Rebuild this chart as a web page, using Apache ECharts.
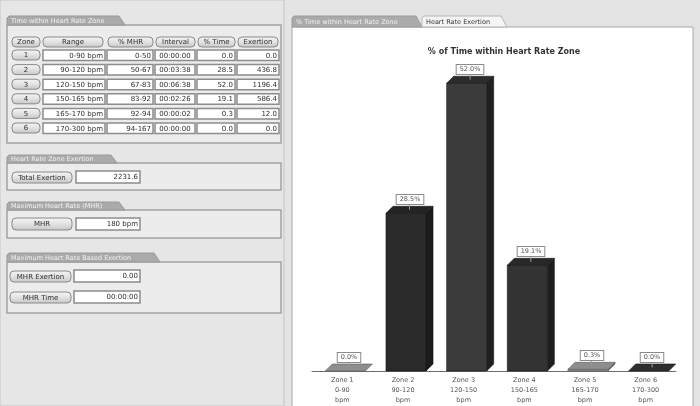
<!DOCTYPE html>
<html>
<head>
<meta charset="utf-8">
<script src="https://cdn.jsdelivr.net/npm/echarts@6/dist/echarts.min.js"></script>
<style>
  html, body { margin: 0; padding: 0; background: #e4e4e4; }
  #chart { width: 700px; height: 406px; }
</style>
</head>
<body>
<div id="chart"></div>
<script>
// Heart rate zone summary
const zones = ['1', '2', '3', '4', '5', '6'];
const rangeLow = [0, 90, 120, 150, 165, 170];
const rangeHigh = [90, 120, 150, 165, 170, 300];
const mhrLow = [0, 50, 67, 83, 92, 94];
const mhrHigh = [50, 67, 83, 92, 94, 167];
const intervals = ['00:00:00', '00:03:38', '00:06:38', '00:02:26', '00:00:02', '00:00:00'];
const pctTime = [0.0, 28.5, 52.0, 19.1, 0.3, 0.0];
const exertion = [0.0, 436.8, 1196.4, 586.4, 12.0, 0.0];
const tableHeaders = ['Zone', 'Range', '% MHR', 'Interval', '% Time', 'Exertion'];
const totalExertion = 2231.6;
const maxHeartRate = 180;
const mhrExertion = '0.00';
const mhrTime = '00:00:00';

const FONT = 'DejaVu Sans';

// face colours for each zone's bar: front, side, top, edge
const palette = [
  { front: '#8e8e8e', side: '#6a6a6a', top: '#8e8e8e', edge: '#5a5a5a' },
  { front: '#2a2a2a', side: '#1b1b1b', top: '#242424', edge: '#151515' },
  { front: '#3b3b3b', side: '#202020', top: '#2c2c2c', edge: '#181818' },
  { front: '#333333', side: '#1e1e1e', top: '#282828', edge: '#161616' },
  { front: '#8e8e8e', side: '#6a6a6a', top: '#8e8e8e', edge: '#5a5a5a' },
  { front: '#2e2e2e', side: '#1c1c1c', top: '#2e2e2e', edge: '#1a1a1a' }
];

const categories = zones.map((z, i) => 'Zone ' + z + '\n' + rangeLow[i] + '-' + rangeHigh[i] + '\nbpm');

// ---------- panel widgets ----------
const btnFill = {
  type: 'linear', x: 0, y: 0, x2: 0, y2: 1,
  colorStops: [{ offset: 0, color: '#f6f6f6' }, { offset: 0.5, color: '#e2e2e2' }, { offset: 1, color: '#c6c6c6' }]
};

function label(x, y, text, align, opts) {
  return Object.assign({
    type: 'text', x: x, y: y, z: 5,
    style: Object.assign({ text: text, fill: '#2e2e2e', fontFamily: FONT, fontSize: 7, align: align || 'left', verticalAlign: 'middle' }, opts || {})
  });
}
function button(x, y, w, h, text) {
  return [
    { type: 'rect', z: 4, shape: { x: x, y: y, width: w, height: h, r: 4 }, style: { fill: btnFill, stroke: '#8a8a8a', lineWidth: 1 } },
    label(x + w / 2, y + h / 2 + 0.5, text, 'center')
  ];
}
function cell(x, y, w, h, text, align) {
  const tx = align === 'center' ? x + w / 2 : x + w - 2;
  return [
    { type: 'rect', z: 4, shape: { x: x, y: y, width: w, height: h }, style: { fill: '#ffffff', stroke: '#8c8c8c', lineWidth: 1.5 } },
    label(tx, y + h / 2 + 0.5, text, align === 'center' ? 'center' : 'right')
  ];
}
function tab(x, y, w, h, text, light) {
  return [
    { type: 'polygon', z: 4, shape: { points: [[x, y + h], [x, y + 2], [x + 2, y], [x + w - 6, y], [x + w, y + h]] },
      style: { fill: light ? '#f4f4f4' : '#aaaaaa', stroke: light ? '#b5b5b5' : '#9a9a9a', lineWidth: 1 } },
    label(x + 4, y + h / 2 + 0.5, text, 'left', { fill: light ? '#333333' : '#f2f2f2', fontSize: 6.5 })
  ];
}
function groupBox(x, y, w, h) {
  return { type: 'rect', z: 3, shape: { x: x, y: y, width: w, height: h }, style: { fill: '#ececec', stroke: '#a2a2a2', lineWidth: 1.5 } };
}

const panel = [];
// frames
panel.push({ type: 'rect', z: -2, shape: { x: 0, y: 0, width: 284, height: 406 }, style: { fill: '#e6e6e6', stroke: '#c4c4c4', lineWidth: 1 } });
panel.push({ type: 'rect', z: -2, shape: { x: 292, y: 27, width: 401, height: 382 }, style: { fill: '#ffffff', stroke: '#a9a9a9', lineWidth: 1 } });

// zone table
panel.push(groupBox(7, 25, 274, 118));
panel.push(...tab(7, 16, 118, 9, 'Time within Heart Rate Zone'));
const headCols = [[12, 28], [43, 60], [108, 45], [156, 39], [198, 37], [238, 40]];
tableHeaders.forEach((t, k) => panel.push(...button(headCols[k][0], 37, headCols[k][1], 10, t)));
const cellCols = [[43, 62], [107, 46], [155, 40], [197, 38], [237, 42]];
zones.forEach((z, i) => {
  const y = 50 + i * 14.6;
  panel.push(...button(12, y, 28, 10, z));
  const vals = [
    rangeLow[i] + '-' + rangeHigh[i] + ' bpm',
    mhrLow[i] + '-' + mhrHigh[i],
    intervals[i],
    pctTime[i].toFixed(1),
    exertion[i].toFixed(1)
  ];
  vals.forEach((v, k) => panel.push(...cell(cellCols[k][0], y, cellCols[k][1], 10.5, v, k === 2 ? 'center' : 'right')));
});

// exertion total
panel.push(groupBox(7, 163, 274, 27));
panel.push(...tab(7, 155, 110, 8, 'Heart Rate Zone Exertion'));
panel.push(...button(12, 172, 60, 11, 'Total Exertion'));
panel.push(...cell(76, 171, 64, 12, totalExertion.toFixed(1), 'right'));

// maximum heart rate
panel.push(groupBox(7, 210, 274, 28));
panel.push(...tab(7, 202, 118, 8, 'Maximum Heart Rate (MHR)'));
panel.push(...button(12, 218, 60, 12, 'MHR'));
panel.push(...cell(76, 218, 64, 12, maxHeartRate + ' bpm', 'right'));

// MHR based exertion
panel.push(groupBox(7, 262, 274, 51));
panel.push(...tab(7, 253, 153, 9, 'Maximum Heart Rate Based Exertion'));
panel.push(...button(10, 271, 61, 11, 'MHR Exertion'));
panel.push(...cell(74, 270, 66, 12, mhrExertion, 'right'));
panel.push(...button(10, 292, 61, 11, 'MHR Time'));
panel.push(...cell(74, 291, 66, 12, mhrTime, 'right'));

// chart tabs
panel.push(...tab(292, 16, 130, 11, '% Time within Heart Rate Zone'));
panel.push(...tab(422, 16, 85, 11, 'Heart Rate Exertion', true));

// ---------- 3D bars ----------
function renderBar(params, api) {
  const i = api.value(0);
  const v = api.value(1);
  const band = api.size([1, 0])[0];
  const bw = band * 0.66, dx = 7, dy = 7, shift = 3;
  const b = api.coord([i, 0]);
  const t = api.coord([i, v]);
  const x0 = b[0] - bw / 2 + shift, x1 = x0 + bw;
  const yb = b[1], yt = t[1];
  const c = palette[i];
  const kids = [];
  if (yb - yt > 0.5) {
    kids.push({ type: 'polygon', shape: { points: [[x1, yb], [x1 + dx, yb - dy], [x1 + dx, yt - dy], [x1, yt]] },
      style: { fill: c.side, stroke: c.edge, lineWidth: 0.6 } });
    kids.push({ type: 'rect', shape: { x: x0, y: yt, width: bw, height: yb - yt },
      style: { fill: c.front, stroke: c.edge, lineWidth: 0.6 } });
  }
  kids.push({ type: 'polygon', shape: { points: [[x0, yt], [x1, yt], [x1 + dx, yt - dy], [x0 + dx, yt - dy]] },
    style: { fill: c.top, stroke: c.edge, lineWidth: 0.6 } });
  // value tag above the top face
  const cx = x0 + bw / 2 + dx / 2;
  const cy = yt - dy / 2;
  const boxBottom = cy - 6;
  kids.push({ type: 'line', shape: { x1: cx, y1: boxBottom, x2: cx, y2: cy }, style: { stroke: '#9a9a9a', lineWidth: 1 } });
  kids.push({ type: 'text', x: Math.round(cx), y: Math.round(boxBottom),
    style: { text: v.toFixed(1) + '%', fill: '#555555', fontFamily: FONT, fontSize: 6.5,
      align: 'center', verticalAlign: 'bottom', backgroundColor: '#ffffff',
      borderColor: '#8a8a8a', borderWidth: 1, padding: [1, 3, 1, 3] } });
  return { type: 'group', children: kids };
}

const chart = echarts.init(document.getElementById('chart'), null, { renderer: 'canvas' });
chart.setOption({
  animation: false,
  backgroundColor: 'transparent',
  title: {
    text: '% of Time within Heart Rate Zone',
    left: 499, top: 43, textAlign: 'center',
    textStyle: { fontFamily: FONT, fontSize: 8, fontWeight: 'bold', color: '#333333' }
  },
  grid: { left: 312, right: 24, top: 39, bottom: 35 },
  xAxis: {
    type: 'category',
    data: categories,
    axisLine: { lineStyle: { color: '#6c6c6c', width: 1 } },
    axisTick: { alignWithLabel: true, length: 3, lineStyle: { color: '#6c6c6c' } },
    axisLabel: { fontFamily: FONT, fontSize: 6.5, lineHeight: 10, color: '#555555', margin: 4, interval: 0 }
  },
  yAxis: { type: 'value', min: 0, max: 60, show: false },
  graphic: { elements: panel },
  series: [{
    type: 'custom',
    renderItem: renderBar,
    encode: { x: 0, y: 1 },
    data: pctTime.map((v, i) => [i, v]),
    z: 3
  }]
});
</script>
</body>
</html>
